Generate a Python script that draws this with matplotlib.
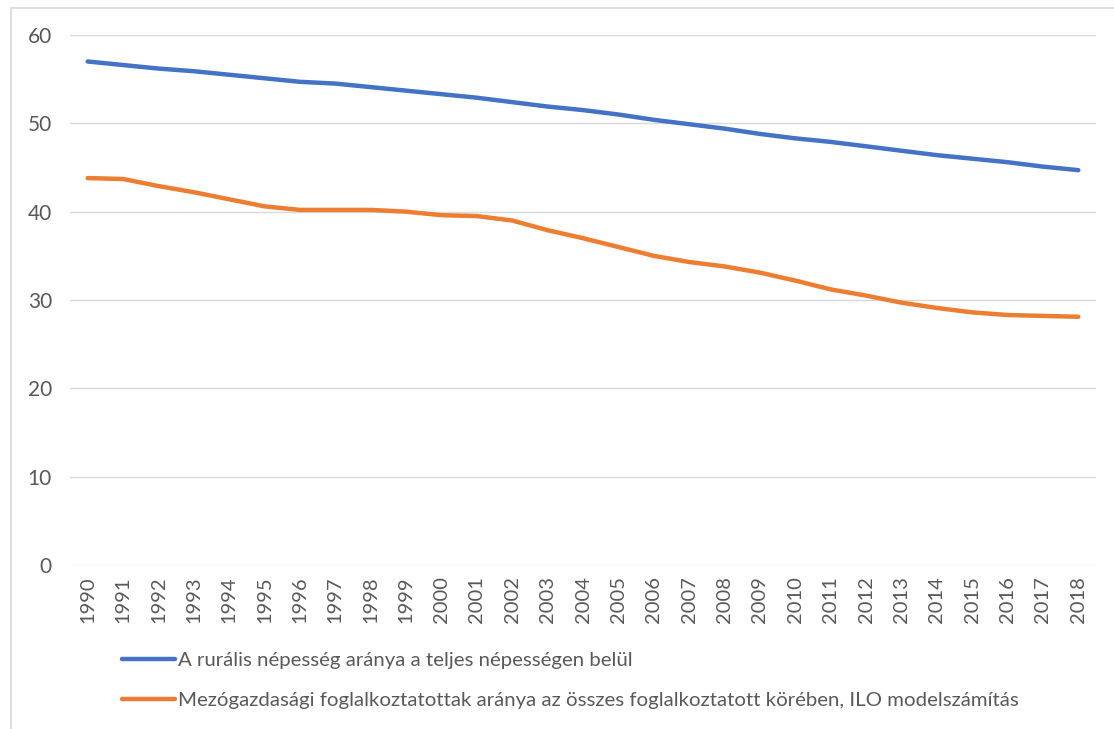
import matplotlib.pyplot as plt
from matplotlib.patches import Rectangle

# adatok
years = [str(y) for y in range(1990, 2019)]
rural = [57.0, 56.6, 56.2, 55.9, 55.5, 55.1, 54.7, 54.5, 54.1, 53.7,
         53.3, 52.9, 52.4, 51.9, 51.5, 51.0, 50.4, 49.9, 49.4, 48.8,
         48.3, 47.9, 47.4, 46.9, 46.4, 46.0, 45.6, 45.1, 44.7]
agri = [43.8, 43.7, 42.9, 42.2, 41.4, 40.6, 40.2, 40.2, 40.2, 40.0,
        39.6, 39.5, 39.0, 37.9, 37.0, 36.0, 35.0, 34.3, 33.8, 33.1,
        32.2, 31.2, 30.5, 29.7, 29.1, 28.6, 28.3, 28.2, 28.1]
yticks = [0, 10, 20, 30, 40, 50, 60]
labels = ["A rurális népesség aránya a teljes népességen belül",
          "Mezógazdasági foglalkoztatottak aránya az összes foglalkoztatott körében, ILO modelszámítás"]

plt.rcParams['font.family'] = ['Lato', 'DejaVu Sans']
grey = '#595959'

fig = plt.figure(figsize=(11.14, 7.29), dpi=100)
ax = fig.add_axes([70 / 1114, 1 - 565 / 729, (1096 - 70) / 1114, (565 - 35) / 729])

x = range(len(years))
ax.plot(x, rural, color='#4472C4', lw=3.2, solid_capstyle='round', solid_joinstyle='round', label=labels[0])
ax.plot(x, agri, color='#ED7D31', lw=3.2, solid_capstyle='round', solid_joinstyle='round', label=labels[1])

ax.set_xlim(-0.5, len(years) - 0.5)
ax.set_ylim(0, 60)
ax.set_yticks(yticks)
ax.set_xticks(list(x))
ax.set_xticklabels(years, rotation=90)
ax.grid(axis='y', color='#D9D9D9', lw=1.0)
ax.set_axisbelow(True)
for s in ax.spines.values():
    s.set_visible(False)
ax.tick_params(axis='y', length=0, pad=13, labelsize=15, labelcolor=grey)
ax.tick_params(axis='x', length=0, pad=8, labelsize=14.5, labelcolor=grey)

fig.legend(loc='upper left', bbox_to_anchor=(114 / 1114, 1 - 644 / 729), frameon=False,
           fontsize=14.7, labelcolor=grey, handlelength=2.6, handletextpad=0.15, labelspacing=1.1,
           borderaxespad=0)

# kulso keret
fig.patches.append(Rectangle((11 / 1114, -0.1), 1.2, 1.1 - 8 / 729, transform=fig.transFigure,
                             fill=False, edgecolor='#D9D9D9', lw=1.2))

fig.savefig('out.png', dpi=100)
